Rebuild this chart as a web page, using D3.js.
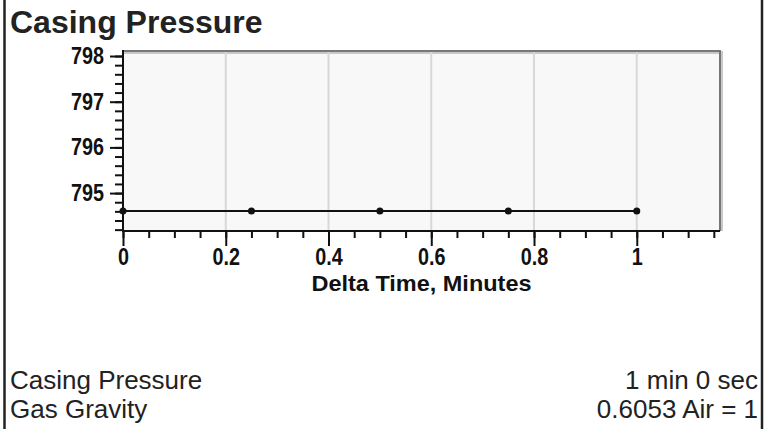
<!DOCTYPE html>
<html>
<head>
<meta charset="utf-8">
<script src="https://cdn.jsdelivr.net/npm/d3@7"></script>
<style>
  html, body { margin: 0; padding: 0; background: #fff; }
  svg { display: block; }
  .txt { font-family: "Liberation Sans", Arial, sans-serif; fill: #222; }
</style>
</head>
<body>
<div id="chart"></div>
<script>
// data
const deltaTime = [0, 0.25, 0.5, 0.75, 1];
const pressure = [794.61, 794.61, 794.61, 794.61, 794.61];
const xTicks = [0, 0.2, 0.4, 0.6, 0.8, 1];
const yTicks = [795, 796, 797, 798];
const title = "Casing Pressure";
const xLabel = "Delta Time, Minutes";
const infoLeft = ["Casing Pressure", "Gas Gravity"];
const infoRight = ["1 min 0 sec", "0.6053 Air = 1"];

const W = 770, H = 429;
const plot = { left: 123, top: 51, right: 720, bottom: 231 };
const squeeze = "scale(0.86,1)";

function boldLabel(sel, size) {
    sel.attr("font-size", null).attr("font-family", null)
        .style("font-family", '"Liberation Sans", Arial, sans-serif')
        .style("font-weight", "bold")
        .style("font-size", size + "px")
        .style("fill", "#111");
}

const svg = d3.select("#chart").append("svg")
    .attr("width", W)
    .attr("height", H);

// page frame (sides only)
svg.append("line").attr("x1", 4.5).attr("x2", 4.5).attr("y1", 0).attr("y2", H)
    .attr("stroke", "#222").attr("stroke-width", 2.5);
svg.append("line").attr("x1", 762).attr("x2", 762).attr("y1", 0).attr("y2", H)
    .attr("stroke", "#222").attr("stroke-width", 2.5);

svg.append("text").attr("class", "txt")
    .attr("x", 10).attr("y", 33)
    .attr("font-size", 32).attr("font-weight", "bold")
    .text(title);

const x = d3.scaleLinear().domain([0, 1.162]).range([plot.left, plot.right]);
const y = d3.scaleLinear().domain([794.17, 798.11]).range([plot.bottom, plot.top]);

// plot background + shadowed frame
svg.append("rect")
    .attr("x", plot.left).attr("y", plot.top)
    .attr("width", plot.right - plot.left).attr("height", plot.bottom - plot.top)
    .attr("fill", "#f8f8f8");
svg.append("path")
    .attr("d", `M${plot.left},${plot.top + 1.5}H${plot.right + 1.5}V${plot.bottom}`)
    .attr("fill", "none").attr("stroke", "#c8c8c8").attr("stroke-width", 3);
svg.append("path")
    .attr("d", `M${plot.left},${plot.top}H${plot.right}V${plot.bottom}`)
    .attr("fill", "none").attr("stroke", "#777").attr("stroke-width", 2);

// vertical grid
svg.append("g").selectAll("line").data(xTicks.filter(d => d > 0)).enter()
    .append("line")
    .attr("x1", d => x(d)).attr("x2", d => x(d))
    .attr("y1", plot.top + 1).attr("y2", plot.bottom)
    .attr("stroke", "#d8d8d8").attr("stroke-width", 2);

// x axis
const xMinor = d3.range(0, 1.16, 0.05);
const xAxis = svg.append("g").attr("transform", `translate(0,${plot.bottom})`)
    .call(d3.axisBottom(x).tickValues(xMinor).tickSize(7).tickFormat(""));
const xMajor = svg.append("g").attr("transform", `translate(0,${plot.bottom})`)
    .call(d3.axisBottom(x).tickValues(xTicks).tickSize(15).tickPadding(3).tickFormat(d3.format("~g")));
[xAxis, xMajor].forEach(g => {
    g.select(".domain").remove();
    g.selectAll(".tick line").attr("stroke", "#111").attr("stroke-width", 2);
});
xMajor.selectAll(".tick text").call(boldLabel, 23).attr("transform", squeeze);
svg.append("line")
    .attr("x1", plot.left - 1).attr("x2", plot.right).attr("y1", plot.bottom).attr("y2", plot.bottom)
    .attr("stroke", "#111").attr("stroke-width", 2);

// y axis
const yMinor = d3.range(794.2, 798.01, 0.2);
const yAxis = svg.append("g").attr("transform", `translate(${plot.left},0)`)
    .call(d3.axisLeft(y).tickValues(yMinor).tickSize(8).tickFormat(""));
const yMajor = svg.append("g").attr("transform", `translate(${plot.left},0)`)
    .call(d3.axisLeft(y).tickValues(yTicks).tickSize(13).tickPadding(9).tickFormat(d3.format("d")));
[yAxis, yMajor].forEach(g => {
    g.select(".domain").remove();
    g.selectAll(".tick line").attr("stroke", "#111").attr("stroke-width", 2);
});
yMajor.selectAll(".tick text").call(boldLabel, 23).attr("transform", squeeze);
svg.append("line")
    .attr("x1", plot.left).attr("x2", plot.left).attr("y1", plot.top - 1).attr("y2", plot.bottom + 1)
    .attr("stroke", "#111").attr("stroke-width", 2);

svg.append("text")
    .attr("x", (plot.left + plot.right) / 2 - 110).attr("y", 291)
    .call(boldLabel, 22)
    .attr("textLength", 220).attr("lengthAdjust", "spacingAndGlyphs")
    .text(xLabel);

// series
const pts = deltaTime.map((t, i) => [t, pressure[i]]);
svg.append("path").datum(pts)
    .attr("fill", "none").attr("stroke", "#111").attr("stroke-width", 2)
    .attr("d", d3.line().x(d => x(d[0])).y(d => y(d[1])));
svg.append("g").selectAll("circle").data(pts).enter()
    .append("circle")
    .attr("cx", d => x(d[0])).attr("cy", d => y(d[1]))
    .attr("r", 3.5).attr("fill", "#111");

// info lines
const info = svg.append("g").attr("class", "txt").attr("font-size", 26);
infoLeft.forEach((s, i) => {
    info.append("text").attr("x", 10).attr("y", 389 + i * 29).text(s);
});
infoRight.forEach((s, i) => {
    info.append("text").attr("x", 758).attr("y", 389 + i * 29)
        .attr("text-anchor", "end").text(s);
});
</script>
</body>
</html>
